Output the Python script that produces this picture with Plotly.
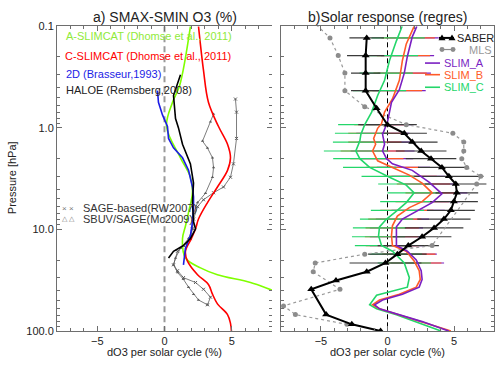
import plotly.graph_objects as go

W, H = 500, 367

# ---------------- Left panel data (pressure hPa, dO3 %) ----------------
aslim_p = [0.1, 0.385, 0.56, 0.97, 1.97, 3.06, 4.27, 6.78, 9.24, 12.3, 19.1, 23.9, 27.9, 33.3, 39.7, 47.0]
aslim_v = [1.93, 1.12, 0.6, 0.15, 1.19, 1.93, 2.08, 1.79, 1.56, 1.34, 1.56, 2.68, 3.94, 6.4, 8.04, 9.6]

cslim_p = [0.1, 0.27, 0.56, 0.97, 1.45, 1.97, 2.62, 3.82, 5.44, 7.9, 9.86, 12.3, 16.4, 20.5, 27.9, 34.8, 43.4, 54.1, 68.9, 84.0, 100.0]
cslim_v = [2.53, 2.9, 3.27, 4.02, 4.69, 4.91, 4.69, 3.94, 3.2, 2.53, 2.31, 2.0, 1.56, 1.71, 2.46, 3.27, 3.57, 3.94, 4.69, 4.91, 4.98]

d2_p = [0.43, 0.56, 0.745, 0.97, 1.27, 1.57, 1.97, 2.62, 3.82, 4.76, 6.35, 8.46, 11.5, 15.3, 22.3]
d2_v = [-0.52, -0.45, -0.15, 0.22, 0.3, 0.67, 1.34, 1.79, 2.08, 2.16, 2.16, 2.08, 1.93, 1.56, 1.41]

haloe_p = [0.30, 0.48, 0.81, 1.0, 1.45, 2.26, 3.5, 5.4, 8.4, 9.86, 12.3, 14.4, 16.4, 19.1]
haloe_v = [1.19, 0.67, 0.82, 1.04, 1.34, 1.93, 2.16, 2.08, 2.16, 2.31, 1.93, 1.41, 0.67, 0.3]

sage_p = [0.52, 0.70, 1.27, 2.26, 3.06, 3.82, 4.35, 5.1, 5.97, 7.9, 9.86, 12.3, 14.4, 16.4, 22.3, 25.5, 29.8, 33.3, 38.8, 46.4, 55.2]
sage_v = [5.28, 5.36, 5.36, 5.13, 4.91, 4.39, 3.65, 2.9, 2.46, 2.16, 2.08, 1.93, 1.41, 0.97, 0.67, 0.97, 1.41, 2.31, 2.9, 3.42, 3.2]

sbuv_p = [0.73, 0.87, 1.35, 1.58, 1.97, 2.46, 3.06, 4.4, 5.44, 7.0, 9.86, 12.3, 15.3, 19.1, 22.3, 26.5, 31.0, 37.0, 43.4, 49.5, 55.2]
sbuv_v = [3.65, 3.42, 2.83, 3.2, 3.57, 3.65, 3.57, 3.05, 2.46, 2.16, 2.08, 1.79, 1.19, 0.82, 0.67, 0.97, 1.41, 1.79, 2.16, 2.53, 3.2]

# ---------------- Right panel data ----------------
saber_p = [0.13, 0.194, 0.289, 0.43, 0.64, 0.93, 1.13, 1.38, 1.69, 2.01, 2.45, 3.0, 3.57, 4.36, 5.32, 6.49,
           7.9, 9.66, 11.8, 14.4, 17.5, 21.4, 26.1, 31.8, 38.8, 68.9, 85.9, 100.0]
saber_v = [-1.56, -1.64, -1.64, -1.64, -0.82, 0.0, 1.26, 1.86, 2.53, 3.27, 4.09, 4.61, 5.13, 5.21, 4.99, 4.76,
           4.24, 3.5, 2.6, 1.56, 0.74, -0.15, -1.56, -3.87, -5.73, -4.61, -2.68, -0.52]

# error bars at the SABER levels (half widths, %)
err_p = [0.13, 0.194, 0.289, 0.43, 0.93, 1.13, 1.38, 1.69, 2.01, 2.45, 3.0, 3.57, 4.36, 5.32, 6.49,
         7.9, 9.66, 11.8, 14.4, 17.5, 21.4]
saber_ec = [-1.56, -1.64, -1.64, -1.64, 0.0, 1.26, 1.86, 2.53, 3.27, 4.09, 4.61, 5.13, 5.21, 4.99, 4.76,
            4.24, 3.5, 2.6, 1.56, 0.74, -0.15]
saber_e = [1.3, 1.4, 1.1, 1.1, 2.2, 1.7, 1.9, 1.9, 1.9, 1.8, 2.6, 2.3, 1.6, 1.8, 1.8,
           2.0, 2.2, 2.2, 2.3, 2.2, 2.7]
slima_c = [1.85, 1.5, 1.26, 0.87, -0.05, -0.35, -0.25, -0.37, -0.07, 1.2, 2.3, 3.3, 4.0, 3.45, 2.3,
           1.12, 0.67, 0.67, 0.67, 1.7, 2.25]
slimb_c = [1.55, 1.2, 0.95, 0.6, -0.5, -0.95, -0.95, -1.12, -0.8, 0.37, 1.7, 2.7, 3.35, 2.6, 1.45,
           0.55, 0.35, 0.3, 0.37, 1.6, 2.05]
slimc_c = [0.8, 0.3, -0.1, -0.6, -1.71, -1.95, -2.1, -2.38, -2.08, -1.34, 0.05, 1.3, 2.0, 1.45, 0.75,
           -0.07, -0.6, -0.67, -0.45, 0.6, 1.26]
slim_e = [2.0, 2.0, 2.0, 2.0, 2.0, 2.0, 2.0, 2.4, 2.0, 2.0, 2.0, 2.0, 2.0, 2.0, 2.0,
          2.0, 2.0, 2.0, 2.0, 2.0, 2.0]

mls_p = [0.08, 0.13, 0.194, 0.289, 0.43, 0.62, 0.93, 1.13, 1.38, 1.69, 2.01, 2.45, 3.0, 3.57, 14.4, 17.5,
         21.4, 26.1, 38.8, 56.6, 68.9, 85.9]
mls_v = [-6.0, -4.32, -3.7, -3.2, -3.2, -1.71, 1.41, 4.91, 5.73, 5.73, 5.58, 5.95, 7.0, 6.7, 3.35, -1.71,
         -5.43, -5.58, -3.57, -7.81, -6.92, -3.05]

slima_p = [0.1, 0.127, 0.198, 0.289, 0.42, 0.56, 0.70, 0.87, 1.16, 1.45, 1.69, 2.01, 2.26, 2.62, 3.42, 4.46,
           5.44, 6.6, 7.9, 9.43, 11.5, 14.4, 16.4, 20.0, 25.5, 31.1, 37.0, 43.4, 49.5, 55.2, 60.4, 69.0, 80.8, 100.0]
slima_v = [2.2, 1.86, 1.49, 1.26, 0.89, 0.3, 0.15, 0.0, -0.37, -0.22, -0.37, -0.07, 0.37, 1.86, 3.12, 4.09,
           3.35, 2.16, 1.12, 0.67, 0.67, 0.67, 1.49, 2.16, 2.53, 2.6, 2.38, 1.12, -0.37, -0.97, -0.6, 0.89, 2.6, 4.6]

slimb_p = [0.1, 0.149, 0.217, 0.34, 0.52, 0.70, 0.91, 1.01, 1.27, 1.45, 1.69, 2.11, 2.45, 2.92, 3.5, 4.36,
           5.32, 6.1, 7.4, 9.2, 11.5, 14.4, 16.4, 20.4, 25.5, 31.1, 37.0, 43.4, 49.5, 55.2, 60.4, 69.0, 84.0, 100.0]
slimb_v = [2.0, 1.41, 1.12, 0.89, 0.37, -0.22, -0.45, -0.74, -1.04, -0.89, -1.12, -0.74, 0.37, 1.64, 2.6, 3.35,
           2.6, 1.64, 0.74, 0.37, 0.3, 0.37, 1.41, 2.0, 2.38, 2.46, 2.16, 0.89, -0.6, -1.12, -0.6, 0.89, 2.9, 4.76]

slimc_p = [0.1, 0.139, 0.217, 0.34, 0.48, 0.70, 0.93, 1.16, 1.35, 1.69, 2.01, 2.45, 3.06, 3.66, 4.36, 5.44,
           6.6, 7.9, 9.43, 11.5, 14.4, 16.4, 21.4, 29.8, 37.0, 41.5, 44.4, 55.2, 60.4, 69.0, 84.0, 100.0]
slimc_v = [1.1, 0.67, 0.15, -0.22, -0.74, -1.19, -1.71, -2.0, -2.08, -2.38, -2.08, -1.34, 0.15, 1.41, 2.0, 1.41,
           0.67, -0.07, -0.6, -0.67, -0.45, 0.37, 1.26, 1.64, 1.49, 0.15, -0.82, -1.34, -0.82, 0.67, 2.38, 4.02]

xticks = [-5, 0, 5]
yticks = [0.1, 1, 10, 100]
yticktext = ["0.1", "1.0", "10.0", "100.0"]
yminor = [m * d for d in (0.1, 1, 10) for m in range(2, 10)]

# ---------------- colours ----------------
C_AS = "#7FFF00"
C_CS = "#FF0000"
C_2D = "#1C1CE6"
C_HA = "#000000"
C_GR = "#5A5A5A"
C_SA = "#7A1FC2"
C_SB = "#FF5A28"
C_SC = "#24D66A"
C_MLS = "#8C8C8C"
AXC = "#6E6E6E"
TXT = "#222222"
FONT = "Liberation Sans, Arial, sans-serif"

fig = go.Figure()

# left panel
fig.add_trace(go.Scatter(x=[0, 0], y=[0.1, 100], mode="lines", line=dict(color="#9A9A9A", width=2, dash="6px,4px"),
                         xaxis="x", yaxis="y", showlegend=False, hoverinfo="skip"))
fig.add_trace(go.Scatter(x=sage_v, y=sage_p, mode="lines+markers", line=dict(color=C_GR, width=0.8),
                         marker=dict(symbol="x-thin", size=3, line=dict(color=C_GR, width=1)), xaxis="x", yaxis="y", showlegend=False))
fig.add_trace(go.Scatter(x=sbuv_v, y=sbuv_p, mode="lines+markers", line=dict(color=C_GR, width=0.8),
                         marker=dict(symbol="triangle-up", size=3, color=C_GR), xaxis="x", yaxis="y", showlegend=False))
fig.add_trace(go.Scatter(x=aslim_v, y=aslim_p, mode="lines", line=dict(color=C_AS, width=1.6, shape="spline"),
                         xaxis="x", yaxis="y", showlegend=False))
fig.add_trace(go.Scatter(x=cslim_v, y=cslim_p, mode="lines", line=dict(color=C_CS, width=1.6, shape="spline"),
                         xaxis="x", yaxis="y", showlegend=False))
fig.add_trace(go.Scatter(x=d2_v, y=d2_p, mode="lines", line=dict(color=C_2D, width=1.6),
                         xaxis="x", yaxis="y", showlegend=False))
fig.add_trace(go.Scatter(x=haloe_v, y=haloe_p, mode="lines", line=dict(color=C_HA, width=1.6),
                         xaxis="x", yaxis="y", showlegend=False))
# dummy for right-side tick axis of left panel
fig.add_trace(go.Scatter(x=[None], y=[None], xaxis="x", yaxis="y3", showlegend=False, hoverinfo="skip"))

# right panel
fig.add_trace(go.Scatter(x=[0, 0], y=[0.1, 100], mode="lines", line=dict(color="#000000", width=1, dash="5px,3px"),
                         xaxis="x2", yaxis="y2", showlegend=False, hoverinfo="skip"))


def errtrace(cx, e, color):
    return go.Scatter(x=cx, y=err_p, mode="markers", marker=dict(size=1, opacity=0),
                      error_x=dict(type="data", array=e, symmetric=True, color=color, thickness=1.2, width=0),
                      xaxis="x2", yaxis="y2", showlegend=False, hoverinfo="skip")


fig.add_trace(errtrace(slima_c, slim_e, C_SA))
fig.add_trace(errtrace(slimb_c, slim_e, C_SB))
fig.add_trace(errtrace(slimc_c, slim_e, C_SC))
fig.add_trace(errtrace(saber_ec, saber_e, "#3A3A3A"))

fig.add_trace(go.Scatter(x=mls_v, y=mls_p, mode="lines+markers", line=dict(color="#999999", width=1.2, dash="dot"),
                         marker=dict(symbol="circle", size=5, color=C_MLS), xaxis="x2", yaxis="y2", showlegend=False))
fig.add_trace(go.Scatter(x=slimc_v, y=slimc_p, mode="lines", line=dict(color=C_SC, width=1.6),
                         xaxis="x2", yaxis="y2", showlegend=False))
fig.add_trace(go.Scatter(x=slimb_v, y=slimb_p, mode="lines", line=dict(color=C_SB, width=1.6),
                         xaxis="x2", yaxis="y2", showlegend=False))
fig.add_trace(go.Scatter(x=slima_v, y=slima_p, mode="lines", line=dict(color=C_SA, width=1.6),
                         xaxis="x2", yaxis="y2", showlegend=False))
fig.add_trace(go.Scatter(x=saber_v, y=saber_p, mode="lines+markers", line=dict(color="#000000", width=2),
                         marker=dict(symbol="triangle-up", size=7, color="#000000"), xaxis="x2", yaxis="y2", showlegend=False))


def px(x):
    return x / W


def py(y):
    return 1 - y / H


xl = [57, 272]
xr = [281, 494]
yt, yb = 21, 336

common_x = dict(range=[-8, 8], tickvals=xticks, ticks="inside", ticklen=5, tickcolor=AXC, showline=True,
                linecolor=AXC, linewidth=1, mirror="ticks", showgrid=False, zeroline=False,
                minor=dict(dtick=1, tick0=0, ticks="inside", ticklen=3, tickcolor=AXC),
                tickfont=dict(size=11, color=TXT, family=FONT))
common_y = dict(type="log", range=[2, -1], tickvals=yticks, ticks="inside", ticklen=5, tickcolor=AXC,
                showgrid=False, zeroline=False,
                minor=dict(tickmode="array", tickvals=yminor, ticks="inside", ticklen=3, tickcolor=AXC))

fig.update_layout(
    width=W, height=H, margin=dict(l=0, r=0, t=0, b=0),
    paper_bgcolor="white", plot_bgcolor="white",
    font=dict(family=FONT, color=TXT, size=11),
    xaxis=dict(domain=[px(xl[0]), px(xl[1])], anchor="y", **common_x),
    xaxis2=dict(domain=[px(xr[0]), px(xr[1])], anchor="y2", **common_x),
    yaxis=dict(domain=[py(yb), py(yt)], anchor="x", ticktext=yticktext, showline=True, linecolor=AXC,
               linewidth=1, mirror=False, tickfont=dict(size=11, color=TXT, family=FONT), **common_y),
    yaxis3=dict(overlaying="y", anchor="x", side="right", showline=False, showticklabels=False, **common_y),
    yaxis2=dict(domain=[py(yb), py(yt)], anchor="x2", showline=True, linecolor=AXC, linewidth=1,
                mirror="ticks", showticklabels=False, **common_y),
    showlegend=False,
)

ann = []


def txt(x, y, s, color=TXT, size=11, xanchor="left", angle=0):
    ann.append(dict(x=px(x), y=py(y), xref="paper", yref="paper", text=s, showarrow=False,
                    xanchor=xanchor, yanchor="middle", textangle=angle,
                    font=dict(family=FONT, size=size, color=color)))


txt(164.5, 11, "a) SMAX-SMIN O3 (%)", size=14, xanchor="center")
txt(387.5, 11, "b)Solar response (regres)", size=14, xanchor="center")
txt(164.5, 358, "dO3 per solar cycle (%)", xanchor="center")
txt(387.5, 358, "dO3 per solar cycle (%)", xanchor="center")
txt(12, 178, "Pressure [hPa]", xanchor="center", angle=-90)

txt(64, 31, "A-SLIMCAT (Dhomse et al., 2011)", color="#8FEA3A")
txt(63, 52, "C-SLIMCAT (Dhomse et al., 2011)", color=C_CS)
txt(64, 70, "2D (Brasseur,1993)", color=C_2D)
txt(64, 87, "HALOE (Remsberg,2008)", color="#222222")
txt(60, 209, "× × ", color="#777777", size=8)
txt(81, 209, "SAGE-based(RW2007)", color="#333333")
txt(60, 220, "△ △ ", color="#777777", size=7)
txt(81, 220, "SBUV/SAGE(Mc2009)", color="#333333")

txt(455, 33, "SABER", color="#222222")
txt(467, 45, "MLS", color="#999999")
txt(442, 59, "SLIM_A", color=C_SA)
txt(442, 71, "SLIM_B", color=C_SB)
txt(442, 84, "SLIM_C", color=C_SC)

shapes = []


def seg(x0, x1, y, color, width=1.6, dash=None):
    shapes.append(dict(type="line", xref="paper", yref="paper", x0=px(x0), x1=px(x1), y0=py(y), y1=py(y),
                       line=dict(color=color, width=width, dash=dash)))


seg(439, 454, 33, "#000000", 2)
for cx in (442, 452):
    shapes.append(dict(type="path", xref="paper", yref="paper",
                       path=f"M {px(cx-3.5)} {py(35.5)} L {px(cx+3.5)} {py(35.5)} L {px(cx)} {py(29.5)} Z",
                       fillcolor="#000000", line=dict(width=0)))
seg(442, 453, 45, C_MLS, 1.2)
for cx in (442, 453):
    shapes.append(dict(type="circle", xref="paper", yref="paper", x0=px(cx-2.5), x1=px(cx+2.5),
                       y0=py(47.5), y1=py(42.5), fillcolor=C_MLS, line=dict(width=0)))
seg(425, 440, 59, C_SA)
seg(425, 440, 71, C_SB)
seg(425, 440, 84, C_SC)

fig.update_layout(annotations=ann, shapes=shapes)
fig.write_html("out.html", config={"displayModeBar": False},
               post_script="document.body.style.margin='0px';document.body.style.overflow='hidden';")
